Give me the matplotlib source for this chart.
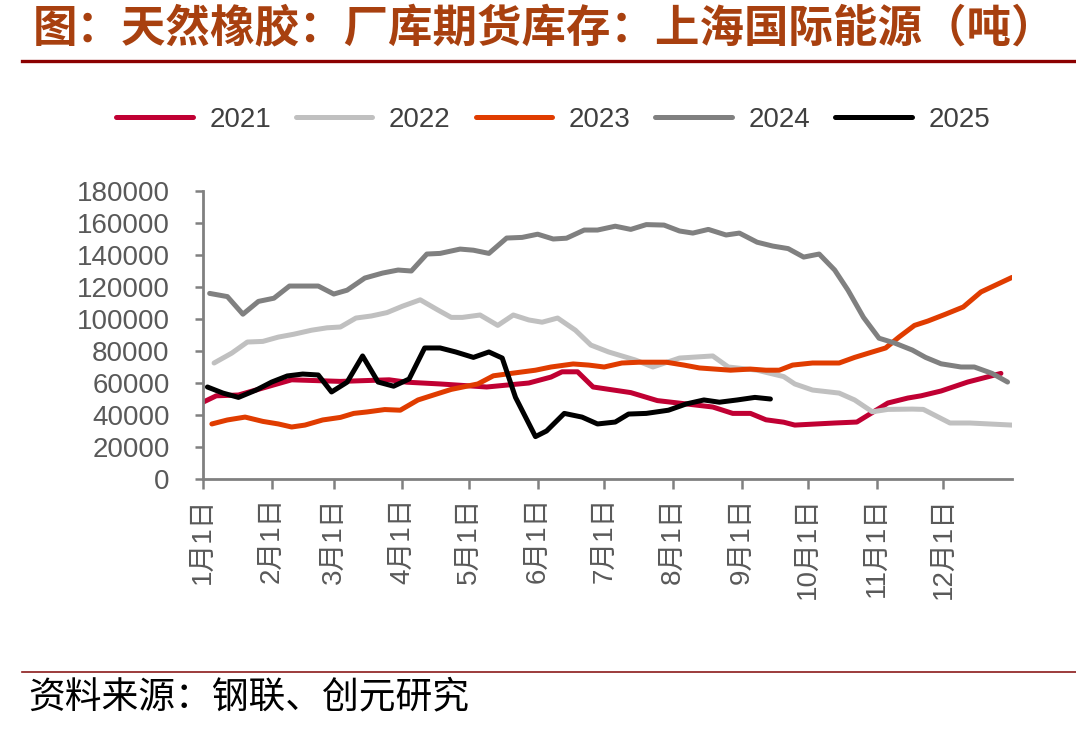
import matplotlib
matplotlib.use("Agg")
import matplotlib.pyplot as plt
from matplotlib.lines import Line2D

plt.rcParams['font.family'] = ['Liberation Sans', 'Noto Sans CJK SC', 'DejaVu Sans']

# 月份刻度（一年中的第几天）
month_labels = ['1月1日', '2月1日', '3月1日', '4月1日', '5月1日', '6月1日',
                '7月1日', '8月1日', '9月1日', '10月1日', '11月1日', '12月1日']
month_days = [0, 31, 59, 90, 120, 151, 181, 212, 243, 273, 304, 334]

# 各年份库存（吨），横轴为一年中的第几天
d2021 = [0, 6, 16, 40, 62, 84, 92, 107, 128, 147, 157, 162, 169, 176, 193, 205,
         230, 239, 247, 254, 262, 267, 285, 295, 309, 318, 324, 333, 345, 360]
v2021 = [48000, 52000, 52500, 62000, 61000, 62000, 60500, 59400, 57500, 60000,
         63700, 67000, 67000, 57500, 54000, 49000, 45000, 41000, 41000, 37000,
         35500, 33700, 35000, 35600, 47500, 50600, 52000, 55000, 60600, 66000]

d2022 = [5, 13, 20, 27, 34, 41, 49, 56, 62, 69, 76, 83, 90, 98, 106, 112, 117,
         125, 133, 140, 147, 153, 160, 168, 175, 183, 195, 203, 215, 230, 237,
         250, 262, 267, 275, 287, 294, 302, 309, 320, 325, 337, 346, 365]
v2022 = [72500, 78700, 85600, 86000, 88700, 90500, 93000, 94500, 95000, 100600,
         101900, 104000, 108000, 112000, 105600, 101000, 101000, 102500, 96000,
         102500, 99400, 98000, 100600, 93000, 83700, 79400, 74400, 70000, 75600,
         76900, 70000, 68000, 64000, 59400, 55600, 53700, 49400, 42000, 43500,
         43700, 43500, 35000, 35000, 33700]

d2023 = [4, 11, 19, 27, 34, 40, 46, 54, 62, 68, 74, 82, 89, 97, 104, 112, 119,
         124, 131, 139, 150, 157, 167, 174, 181, 189, 197, 209, 217, 224, 238,
         247, 254, 260, 266, 275, 287, 294, 302, 308, 314, 321, 327, 335, 343,
         351, 365]
v2023 = [34400, 36900, 38700, 36000, 34400, 32500, 33700, 36900, 38500, 41000,
         41900, 43400, 43000, 49400, 52500, 56000, 58000, 59400, 64500, 66000,
         68000, 70000, 71900, 71200, 70000, 72500, 73000, 73000, 71200, 69400,
         68000, 68700, 68000, 68000, 71200, 72500, 72500, 76000, 79400, 81900,
         88700, 96000, 98700, 103000, 107500, 116900, 126000]

d2024 = [3, 11, 18, 25, 32, 39, 52, 59, 65, 73, 81, 88, 94, 101, 107, 116, 122,
         129, 137, 144, 151, 158, 164, 172, 178, 186, 193, 200, 208, 215, 221,
         228, 236, 242, 250, 257, 264, 271, 278, 285, 291, 298, 305, 312, 320,
         326, 333, 342, 348, 356, 363]
v2024 = [116000, 114000, 103000, 111000, 113000, 120600, 120600, 115600, 118000,
         125600, 128700, 130600, 130000, 140600, 141000, 143700, 143000, 141000,
         150600, 151000, 153000, 150000, 150500, 155600, 155600, 158000, 156000,
         159000, 158700, 155000, 153700, 156000, 152500, 153700, 148000, 145600,
         144000, 138700, 140600, 130600, 118000, 101000, 88000, 85000, 80600,
         76000, 72000, 70000, 70000, 66000, 60600]

d2025 = [2, 9, 16, 24, 31, 38, 45, 52, 58, 65, 72, 79, 86, 93, 100, 107, 114,
         122, 129, 135, 141, 150, 155, 163, 171, 178, 186, 192, 200, 210, 218,
         226, 233, 241, 249, 256]
v2025 = [57500, 53700, 51000, 55600, 60600, 64400, 65600, 65000, 54400, 60500,
         76900, 60600, 58000, 62500, 81900, 81900, 79400, 76000, 79400, 75600,
         51000, 26500, 30000, 41000, 38700, 34400, 35600, 40600, 41000, 43000,
         46900, 49400, 48000, 49400, 51000, 50000]

series = [
    ('2021', d2021, v2021, '#C00033'),
    ('2022', d2022, v2022, '#C0C0C0'),
    ('2023', d2023, v2023, '#E03C00'),
    ('2024', d2024, v2024, '#808080'),
    ('2025', d2025, v2025, '#000000'),
]

fig = plt.figure(figsize=(10.76, 7.31), dpi=100)
ax = fig.add_axes([203 / 1076, 1 - 479 / 731, (1012 - 203) / 1076, (479 - 191) / 731])

handles = []
for i, (name, d, v, c) in enumerate(series):
    ln, = ax.plot(d, v, color=c, lw=3.6, solid_capstyle='round',
                  solid_joinstyle='round', label=name, zorder=2 + i)
    handles.append(ln)

ax.set_xlim(0, 365)
ax.set_ylim(0, 180000)
ax.set_yticks(range(0, 180001, 20000))
ax.set_xticks(month_days)
ax.set_xticklabels(month_labels, rotation=90, va='top', ha='center')

for side in ['top', 'right']:
    ax.spines[side].set_visible(False)
for side in ['left', 'bottom']:
    ax.spines[side].set_color('#808080')
    ax.spines[side].set_linewidth(2.0)

ax.tick_params(axis='y', direction='out', length=6, width=1.8, color='#808080',
               labelsize=20, labelcolor='#595959', pad=18)
ax.tick_params(axis='x', direction='out', length=7, width=1.8, color='#808080',
               labelsize=20, labelcolor='#595959', pad=6)

leg = fig.legend(handles=handles, loc='center', bbox_to_anchor=(0.514, 1 - 120 / 731),
                 ncol=5, frameon=False, fontsize=20, handlelength=2.75,
                 handletextpad=0.6, columnspacing=0.9)
for t in leg.get_texts():
    t.set_color('#404040')

# 标题与分隔线
fig.text(33 / 1076, 1 - 28 / 731, '图：天然橡胶：厂库期货库存：上海国际能源（吨）',
         fontsize=32, color='#A8400F', fontweight='bold', ha='left', va='center',
         family=['Noto Sans CJK SC', 'DejaVu Sans'])
fig.add_artist(Line2D([22 / 1076, 1], [1 - 61 / 731] * 2, color='#8B0000', lw=2.4,
                      transform=fig.transFigure))
fig.add_artist(Line2D([22 / 1076, 1], [1 - 672 / 731] * 2, color='#8B1A1A', lw=1.2,
                      transform=fig.transFigure))
fig.text(28 / 1076, 1 - 697 / 731, '资料来源：钢联、创元研究', fontsize=26.5,
         color='#000000', ha='left', va='center',
         family=['Noto Sans CJK SC', 'DejaVu Sans'])

fig.savefig('out.png', dpi=100)
